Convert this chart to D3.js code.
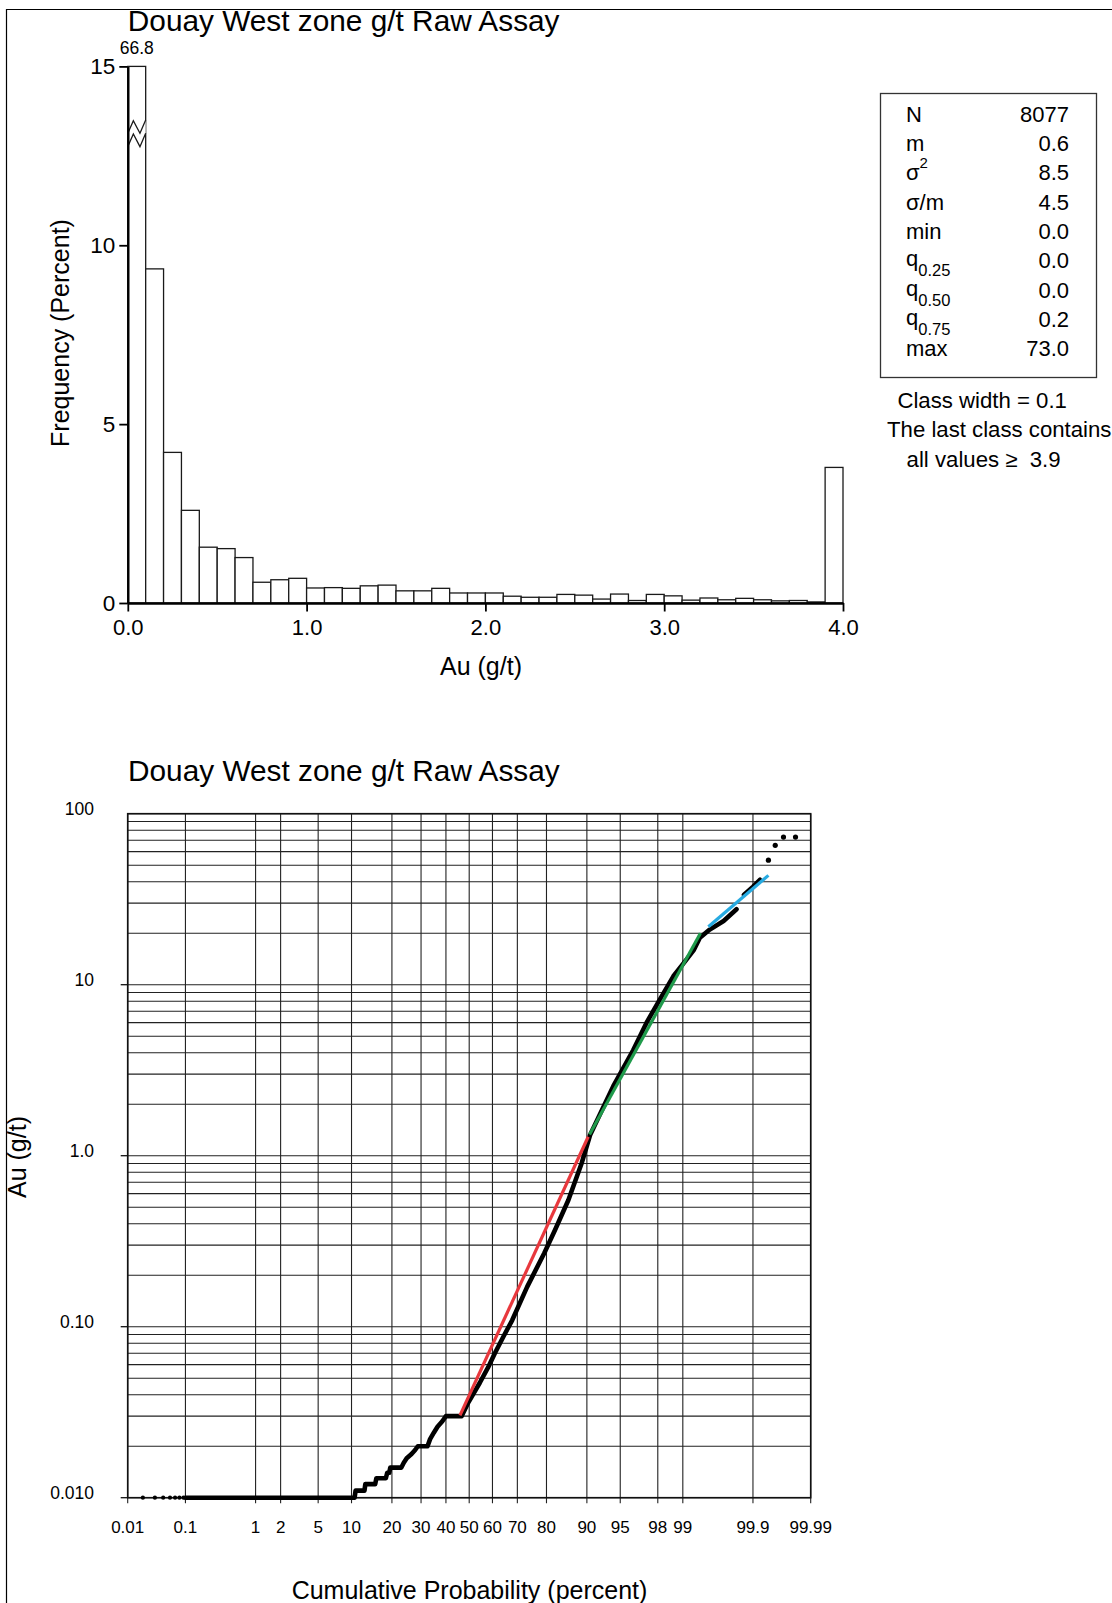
<!DOCTYPE html>
<html><head><meta charset="utf-8">
<script src="https://cdn.jsdelivr.net/npm/d3@7"></script>
<style>
body{margin:0;background:#fff}
svg{display:block}
text{font-family:"Liberation Sans",Arial,Helvetica,sans-serif;fill:#000}
</style></head>
<body>
<svg id="c" width="1112" height="1603"></svg>
<script>
// ---------------- DATA ----------------
const chartTitle = "Douay West zone g/t Raw Assay";

// Histogram (class width 0.1, last class contains all values >= 3.9)
const binStarts = [0.0,0.1,0.2,0.3,0.4,0.5,0.6,0.7,0.8,0.9,1.0,1.1,1.2,1.3,1.4,1.5,1.6,1.7,1.8,1.9,
                   2.0,2.1,2.2,2.3,2.4,2.5,2.6,2.7,2.8,2.9,3.0,3.1,3.2,3.3,3.4,3.5,3.6,3.7,3.8,3.9];
const binFreq = [66.8,9.34,4.21,2.59,1.56,1.52,1.27,0.58,0.65,0.69,0.42,0.43,0.41,0.48,0.50,0.34,0.34,0.41,0.28,0.28,
                 0.28,0.19,0.16,0.16,0.24,0.22,0.11,0.25,0.07,0.24,0.20,0.08,0.14,0.09,0.13,0.09,0.06,0.07,0.03,3.79];
const classWidth = 0.1;
const brokenBarLabel = "66.8";
const histYTicks = [0,5,10,15];
const histXTicks = [0,1,2,3,4];
const histXTickLabels = ["0.0","1.0","2.0","3.0","4.0"];
const histXTitle = "Au (g/t)";
const histYTitle = "Frequency (Percent)";

// Statistics box
const statNames = ["N","m","σ","σ/m","min","q","q","q","max"];
const statSups  = ["","","2","","","","","",""];
const statSubs  = ["","","","","","0.25","0.50","0.75",""];
const statValues = ["8077","0.6","8.5","4.5","0.0","0.0","0.0","0.2","73.0"];
const notes = ["Class width = 0.1","The last class contains","all values \u2265  3.9"];

// Probability plot
const probTicks = [0.01,0.1,1,2,5,10,20,30,40,50,60,70,80,90,95,98,99,99.9,99.99];
const probTickLabels = ["0.01","0.1","1","2","5","10","20","30","40","50","60","70","80","90","95","98","99","99.9","99.99"];
const gradeTicks = [0.01,0.1,1,10,100];
const gradeTickLabels = ["0.010","0.10","1.0","10","100"];
const probXTitle = "Cumulative Probability (percent)";
const probYTitle = "Au (g/t)";

// sample points: [cumulative percent, Au g/t]
const lowDots = [[0.019,0.01],[0.031,0.01],[0.043,0.01],[0.056,0.01],[0.068,0.01],[0.080,0.01],[0.093,0.01]];
const curvePts = [
  [0.1,0.01],[10.6,0.01],
  [10.8,0.011],[12.7,0.011],
  [12.9,0.012],[15.3,0.012],
  [15.6,0.013],[18.2,0.013],
  [18.6,0.014],[19.2,0.014],
  [19.5,0.015],[23.0,0.015],
  [23.8,0.016],[24.8,0.017],[26.5,0.018],[27.8,0.019],
  [28.8,0.02],[32.5,0.02],
  [33.5,0.022],[35.0,0.024],[36.5,0.026],[38.5,0.028],[40.0,0.03],
  [46.7,0.03],
  [49.6,0.036],[54.6,0.047],[58.2,0.058],[61.0,0.070],[64.6,0.088],[68.0,0.109],[73.6,0.171],
  [79.3,0.269],[82.5,0.368],[86.0,0.551],[88.96,0.903],[90.6,1.32],
  [94.17,2.55],[96.3,4.15],[97.33,6.0],[98.11,8.2],[98.69,11.2],[99.11,14.1],[99.28,16.0],
  [99.40,18.8],[99.56,21.0],[99.72,23.6],[99.82,27.6]
];
const curveTop = [[99.86,33.5],[99.90,37.5],[99.923,41.3]];
const outliers = [[99.944,53.5],[99.957,65.3],[99.969,73.0],[99.981,73.0]];
const fitRed = [[46.0,0.0303],[90.25,1.29]];
const fitGreen = [[90.5,1.33],[99.41,20.0]];
const fitBlue = [[99.54,21.8],[99.944,43.6]];

// ---------------- HELPERS ----------------
function probit(p){
  const a=[-3.969683028665376e+01,2.209460984245205e+02,-2.759285104469687e+02,1.383577518672690e+02,-3.066479806614716e+01,2.506628277459239e+00];
  const b=[-5.447609879822406e+01,1.615858368580409e+02,-1.556989798598866e+02,6.680131188771972e+01,-1.328068155288572e+01];
  const c=[-7.784894002430293e-03,-3.223964580411365e-01,-2.400758277161838e+00,-2.549732539343734e+00,4.374664141464968e+00,2.938163982698783e+00];
  const d=[7.784695709041462e-03,3.224671290700398e-01,2.445134137142996e+00,3.754408661907416e+00];
  const pl=0.02425, ph=1-pl;
  if(p<pl){const q=Math.sqrt(-2*Math.log(p));return (((((c[0]*q+c[1])*q+c[2])*q+c[3])*q+c[4])*q+c[5])/((((d[0]*q+d[1])*q+d[2])*q+d[3])*q+1);}
  if(p<=ph){const q=p-0.5,r=q*q;return (((((a[0]*r+a[1])*r+a[2])*r+a[3])*r+a[4])*r+a[5])*q/(((((b[0]*r+b[1])*r+b[2])*r+b[3])*r+b[4])*r+1);}
  const q=Math.sqrt(-2*Math.log(1-p));return -(((((c[0]*q+c[1])*q+c[2])*q+c[3])*q+c[4])*q+c[5])/((((d[0]*q+d[1])*q+d[2])*q+d[3])*q+1);
}

const svg = d3.select("#c");
svg.append("rect").attr("width",1112).attr("height",1603).attr("fill","#fff");
// page frame
svg.append("path").attr("d","M6.5,1603V9.5H1112").attr("fill","none").attr("stroke","#000").attr("stroke-width",1.2);

// ---------------- HISTOGRAM ----------------
const hx = d3.scaleLinear().domain([0,4]).range([127.8,843]);
const hy = d3.scaleLinear().domain([0,15]).range([603,66.4]);
const hg = svg.append("g");
const yMax = hy.domain()[1];

hg.selectAll("rect.bar").data(binStarts).join("rect").attr("class","bar")
  .attr("x",d=>hx(d)).attr("width",d=>hx(d+classWidth)-hx(d))
  .attr("y",(d,i)=>hy(Math.min(binFreq[i],yMax)))
  .attr("height",(d,i)=>hy(0)-hy(Math.min(binFreq[i],yMax)))
  .attr("fill","#fff").attr("stroke","#1a1a1a").attr("stroke-width",1.3);

// broken bar marker
const bx0 = hx(binStarts[0]), bx1 = hx(binStarts[0]+classWidth), bw = bx1-bx0;
const zTop = hy(13.5), gapZ = 13.3;
const zig = y0 => [[bx0+0.7,y0+11.7],[bx0+bw*0.31,y0+0.7],[bx0+bw*0.68,y0+13.3],[bx1,y0]];
const up = zig(zTop), lo = zig(zTop+gapZ);
hg.append("polygon").attr("points",up.concat(lo.slice().reverse()).map(p=>p.join(",")).join(" "))
  .attr("fill","#fff");
[up,lo].forEach(z=>hg.append("polyline").attr("points",z.map(p=>p.join(",")).join(" "))
  .attr("fill","none").attr("stroke","#1a1a1a").attr("stroke-width",1.3));
hg.append("text").attr("x",(bx0+bx1)/2).attr("y",54.3).attr("text-anchor","middle")
  .attr("font-size","17.5px").text(brokenBarLabel);

// axes
const yAx = hg.append("g").attr("transform",`translate(${hx(0)},0)`)
  .call(d3.axisLeft(hy).tickValues(histYTicks).tickFormat(d3.format("d")).tickSize(8.5).tickSizeOuter(0).tickPadding(4));
const xAx = hg.append("g").attr("transform",`translate(0,${hy(0)})`)
  .call(d3.axisBottom(hx).tickValues(histXTicks).tickFormat((d,i)=>histXTickLabels[i]).tickSize(8.5).tickSizeOuter(0).tickPadding(8));
[yAx,xAx].forEach(a=>{
  a.select(".domain").attr("stroke","#000").attr("stroke-width",2.4);
  a.selectAll(".tick line").attr("stroke","#000").attr("stroke-width",1.8);
  a.selectAll(".tick text").attr("font-size","22px").attr("font-family",null).attr("fill","#000");
});
yAx.selectAll(".tick text").attr("font-size","22.5px");
hg.append("text").attr("transform",`translate(69,333) rotate(-90)`).attr("text-anchor","middle")
  .attr("font-size","25px").text(histYTitle);
hg.append("text").attr("x",481).attr("y",675).attr("text-anchor","middle").attr("font-size","25px").text(histXTitle);
svg.append("text").attr("x",127.8).attr("y",30.7).attr("font-size","29.8px").text(chartTitle);

// stats box
const sg = svg.append("g");
sg.append("rect").attr("x",880.5).attr("y",93.5).attr("width",216).attr("height",284)
  .attr("fill","#fff").attr("stroke","#333").attr("stroke-width",1.3);
statNames.forEach((n,i)=>{
  const yb = 121.7 + i*29.3;
  const t = sg.append("text").attr("x",906).attr("y",statSubs[i] ? yb-2 : yb).attr("font-size","22px");
  t.append("tspan").text(n);
  if(statSups[i]) t.append("tspan").attr("font-size","15px").attr("dy",-12).text(statSups[i]);
  if(statSubs[i]) t.append("tspan").attr("font-size","16.5px").attr("dy",10).text(statSubs[i]);
  sg.append("text").attr("x",1069).attr("y",yb).attr("text-anchor","end").attr("font-size","22px").text(statValues[i]);
});
const noteX = [897.4,887,906.6], noteY = [407.5,437,467];
notes.forEach((t,i)=>svg.append("text").attr("x",noteX[i]).attr("y",noteY[i]).attr("font-size","22.2px")
  .attr("xml:space","preserve").style("white-space","pre").text(t));

// ---------------- PROBABILITY PLOT ----------------
const pz = d3.scaleLinear().domain([probit(0.0001),probit(0.9999)]).range([127.7,810.7]);
const px = p => pz(probit(p/100));
const py = d3.scaleLog().domain([0.01,100]).range([1497.7,813.7]);
const pg = svg.append("g");
const xL = px(probTicks[0]), xR = px(probTicks[probTicks.length-1]);
const yB = py(0.01), yT = py(100);

pg.selectAll("line.hg").data(py.ticks()).join("line").attr("class","hg")
  .attr("x1",xL).attr("x2",xR).attr("y1",d=>py(d)).attr("y2",d=>py(d))
  .attr("stroke","#222").attr("stroke-width",1.1);
pg.selectAll("line.vg").data(probTicks).join("line").attr("class","vg")
  .attr("x1",d=>px(d)).attr("x2",d=>px(d)).attr("y1",yT).attr("y2",yB+5.6)
  .attr("stroke","#222").attr("stroke-width",1.1);
pg.append("rect").attr("x",xL).attr("y",yT).attr("width",xR-xL).attr("height",yB-yT)
  .attr("fill","none").attr("stroke","#111").attr("stroke-width",1.6);
// decade ticks on the left
pg.selectAll("line.yt").data(gradeTicks.filter(v=>v<100)).join("line").attr("class","yt")
  .attr("x1",xL-7).attr("x2",xL).attr("y1",d=>py(d)).attr("y2",d=>py(d))
  .attr("stroke","#111").attr("stroke-width",1.3);
pg.selectAll("text.yl").data(gradeTicks).join("text").attr("class","yl")
  .attr("x",94).attr("y",d=>py(d)+1.5).attr("text-anchor","end").attr("font-size","17.5px")
  .text((d,i)=>gradeTickLabels[i]);
pg.selectAll("text.xl").data(probTicks).join("text").attr("class","xl")
  .attr("x",d=>px(d)).attr("y",1532.7).attr("text-anchor","middle").attr("font-size","17px")
  .text((d,i)=>probTickLabels[i]);

const line = d3.line().x(d=>px(d[0])).y(d=>py(d[1]));
pg.append("path").attr("d",line(curvePts)).attr("fill","none").attr("stroke","#000")
  .attr("stroke-width",4.6).attr("stroke-linejoin","round").attr("stroke-linecap","round");
pg.append("path").attr("d",line(curveTop)).attr("fill","none").attr("stroke","#000")
  .attr("stroke-width",4.2).attr("stroke-linejoin","round").attr("stroke-linecap","round");
pg.selectAll("circle.ld").data(lowDots).join("circle").attr("class","ld")
  .attr("cx",d=>px(d[0])).attr("cy",d=>py(d[1])).attr("r",2.1).attr("fill","#000");
pg.selectAll("circle.od").data(outliers).join("circle").attr("class","od")
  .attr("cx",d=>px(d[0])).attr("cy",d=>py(d[1])).attr("r",2.6).attr("fill","#000");

[[fitRed,"#e8383d"],[fitGreen,"#1f9a4b"],[fitBlue,"#27aae1"]].forEach(([pts,col])=>
  pg.append("path").attr("d",line(pts)).attr("fill","none").attr("stroke",col).attr("stroke-width",3.2));

svg.append("text").attr("x",128).attr("y",780.7).attr("font-size","29.8px").text(chartTitle);
svg.append("text").attr("transform","translate(25.5,1157) rotate(-90)").attr("text-anchor","middle")
  .attr("font-size","25px").text(probYTitle);
svg.append("text").attr("x",469.5).attr("y",1599).attr("text-anchor","middle").attr("font-size","25px").text(probXTitle);
</script>
</body></html>
